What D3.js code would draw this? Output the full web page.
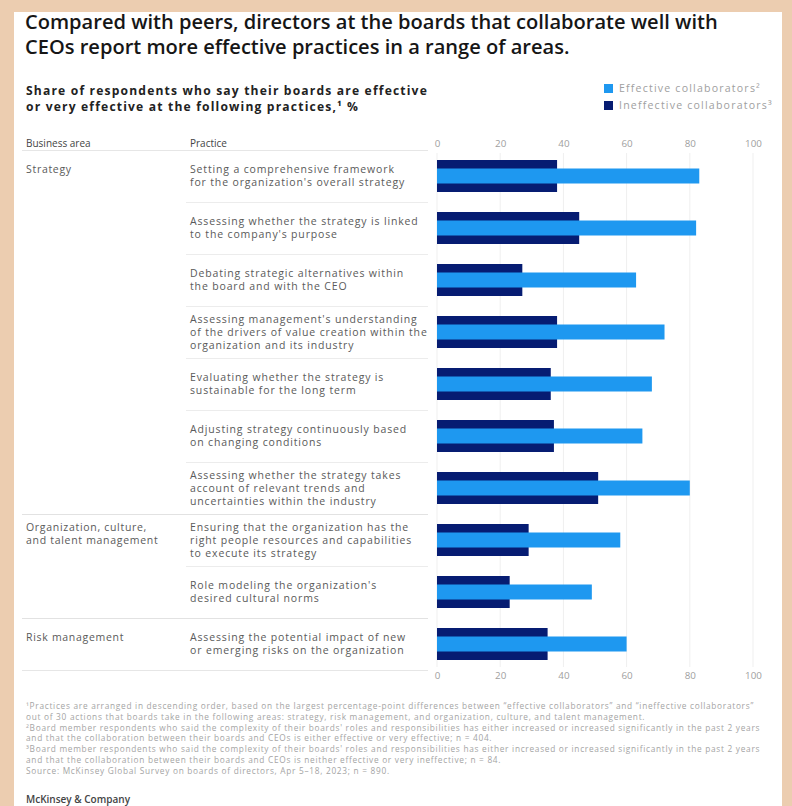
<!DOCTYPE html>
<html><head><meta charset="utf-8">
<script src="https://cdn.jsdelivr.net/npm/d3@7"></script>
<style>
html,body{margin:0;padding:0;background:#ECCDB0;}
svg{display:block;}
text{font-family:"Open Sans","Liberation Sans",Arial,sans-serif;}
</style></head>
<body>
<svg id="chart" width="792" height="806"></svg>
<script>
const areaLabels = [["Strategy"],["Organization, culture,","and talent management"],["Risk management"]];
const groupStart = [0,7,9];
const practices = [
  ["Setting a comprehensive framework","for the organization's overall strategy"],
  ["Assessing whether the strategy is linked","to the company's purpose"],
  ["Debating strategic alternatives within","the board and with the CEO"],
  ["Assessing management's understanding","of the drivers of value creation within the","organization and its industry"],
  ["Evaluating whether the strategy is","sustainable for the long term"],
  ["Adjusting strategy continuously based","on changing conditions"],
  ["Assessing whether the strategy takes","account of relevant trends and","uncertainties within the industry"],
  ["Ensuring that the organization has the","right people resources and capabilities","to execute its strategy"],
  ["Role modeling the organization's","desired cultural norms"],
  ["Assessing the potential impact of new","or emerging risks on the organization"]
];
const effective = [83, 82, 63, 72, 68, 65, 80, 58, 49, 60];
const ineffective = [38, 45, 27, 38, 36, 37, 51, 29, 23, 35];
const ticks = [0, 20, 40, 60, 80, 100];
const seriesNames = ["Effective collaborators²","Ineffective collaborators³"];
const footnotes = [
  "¹Practices are arranged in descending order, based on the largest percentage-point differences between \u201ceffective collaborators\u201d and \u201cineffective collaborators\u201d",
  "out of 30 actions that boards take in the following areas: strategy, risk management, and organization, culture, and talent management.",
  "²Board member respondents who said the complexity of their boards' roles and responsibilities has either increased or increased significantly in the past 2 years",
  "and that the collaboration between their boards and CEOs is either effective or very effective; n = 404.",
  "³Board member respondents who said the complexity of their boards' roles and responsibilities has either increased or increased significantly in the past 2 years",
  "and that the collaboration between their boards and CEOs is neither effective or very ineffective; n = 84.",
  "Source: McKinsey Global Survey on boards of directors, Apr 5\u201318, 2023; n = 890."
];

const LIGHT = "#1E98F0", DARK = "#061C72";
const svg = d3.select("#chart");
svg.append("rect").attr("x",14).attr("y",12).attr("width",768).attr("height",794).attr("fill","#fff");

function spacingFor(node, target){
  const w = node.getComputedTextLength(), n = node.getNumberOfChars();
  return (target - w) / n;
}

// title
const title = ["Compared with peers, directors at the boards that collaborate well with",
               "CEOs report more effective practices in a range of areas."];
const tsel = svg.append("g").selectAll("text").data(title).join("text")
  .attr("x",25).attr("y",(d,i)=>29+i*25)
  .attr("font-size",17).attr("font-weight",600).attr("fill","#161616").text(d=>d);
{
  const w = tsel.node().getComputedTextLength();
  tsel.attr("font-size", 17*693/w);
}

const sub = ["Share of respondents who say their boards are effective","or very effective at the following practices,¹ %"];
const ssel = svg.append("g").selectAll("text").data(sub).join("text")
  .attr("x",26).attr("y",(d,i)=>95+i*15.5)
  .attr("font-size",12.1).attr("font-weight",700).attr("fill","#222").text(d=>d);
ssel.attr("letter-spacing", spacingFor(ssel.node(), 402));

// legend
const lg = svg.append("g").attr("transform","translate(604,84)");
[LIGHT,DARK].forEach((c,i)=>{
  lg.append("rect").attr("x",0).attr("y",i*17).attr("width",9).attr("height",9).attr("fill",c);
  lg.append("text").attr("class","lgt").attr("x",15).attr("y",i*17+8.3).attr("font-size",10.6).attr("fill","#a0a0a0").text(seriesNames[i]);
});
{
  const lt = lg.selectAll(".lgt");
  lt.attr("letter-spacing", spacingFor(lt.node(), 142));
}

// scales
const x = d3.scaleLinear().domain([0,100]).range([437,753]);
const y = d3.scaleBand().domain(d3.range(practices.length)).range([150,670]).paddingInner(0);

// gridlines
svg.append("g").selectAll("line").data(ticks).join("line")
  .attr("x1",d=>x(d)).attr("x2",d=>x(d)).attr("y1",153).attr("y2",667)
  .attr("stroke","#efefef").attr("stroke-width",1);

// axes
const axTop = d3.axisTop(x).tickValues(ticks).tickSize(0).tickPadding(0);
const gTop = svg.append("g").attr("transform","translate(0,147)").call(axTop);
const axBot = d3.axisBottom(x).tickValues(ticks).tickSize(0).tickPadding(0);
const gBot = svg.append("g").attr("transform","translate(0,672)").call(axBot);
[gTop,gBot].forEach(g=>{
  g.select(".domain").remove();
  g.selectAll("text").attr("font-size",9.8).attr("fill","#a0a0a0").attr("font-family","Open Sans, Liberation Sans, Arial, sans-serif");
});
gBot.selectAll("text").attr("dy","0.71em");

// headers
svg.append("text").attr("x",26).attr("y",147).attr("font-size",10).attr("fill","#444").text("Business area");
svg.append("text").attr("x",190).attr("y",147).attr("font-size",10).attr("fill","#444").text("Practice");
svg.append("line").attr("x1",22).attr("x2",428).attr("y1",150.5).attr("y2",150.5).attr("stroke","#e6e6e6");

// separators
d3.range(1, practices.length).forEach(i=>{
  const yy = Math.round(y(i))+0.5;
  const full = groupStart.includes(i);
  svg.append("line").attr("x1",full?22:186).attr("x2",428).attr("y1",yy).attr("y2",yy)
    .attr("stroke",full?"#e2e2e2":"#ececec");
});
svg.append("line").attr("x1",22).attr("x2",428).attr("y1",670.5).attr("y2",670.5).attr("stroke","#e6e6e6");

// practice labels
const lh = 13, fs = 10.5, ls = 0.85;
const pg = svg.append("g");
practices.forEach((lines,i)=>{
  const cy = y(i)+y.bandwidth()/2;
  const t = pg.append("text").attr("x",190).attr("font-size",fs).attr("letter-spacing",ls).attr("fill","#5a5a5a");
  lines.forEach((l,j)=>{
    t.append("tspan").attr("x",190).attr("y",cy - (lines.length-1)*lh/2 + j*lh + 3.6).text(l);
  });
});
// area labels
groupStart.forEach((gi,k)=>{
  const lines = areaLabels[k];
  const first = practices[gi];
  const cy = y(gi)+y.bandwidth()/2;
  const y0 = cy - (first.length-1)*lh/2 + 3.6;
  const t = svg.append("text").attr("font-size",fs).attr("letter-spacing",0.7).attr("fill","#5a5a5a");
  lines.forEach((l,j)=>t.append("tspan").attr("x",26).attr("y",y0+j*lh).text(l));
});

// bars
const bh = 32, lhgt = 15;
svg.append("g").selectAll("rect").data(ineffective).join("rect")
  .attr("x",x(0)).attr("y",(d,i)=>y(i)+y.bandwidth()/2-bh/2)
  .attr("width",d=>x(d)-x(0)).attr("height",bh).attr("fill",DARK);
svg.append("g").selectAll("rect").data(effective).join("rect")
  .attr("x",x(0)).attr("y",(d,i)=>y(i)+y.bandwidth()/2-lhgt/2)
  .attr("width",d=>x(d)-x(0)).attr("height",lhgt).attr("fill",LIGHT);

// footnotes
const fsel = svg.append("g").selectAll("text").data(footnotes).join("text")
  .attr("x",26).attr("y",(d,i)=>709+i*10.8)
  .attr("font-size",8.3).attr("fill","#a4a4a4").text(d=>d);
fsel.attr("letter-spacing", spacingFor(fsel.node(), 728));

svg.append("text").attr("x",26).attr("y",803).attr("font-size",10).attr("font-weight",600).attr("fill","#444").text("McKinsey & Company");
</script>
</body></html>
